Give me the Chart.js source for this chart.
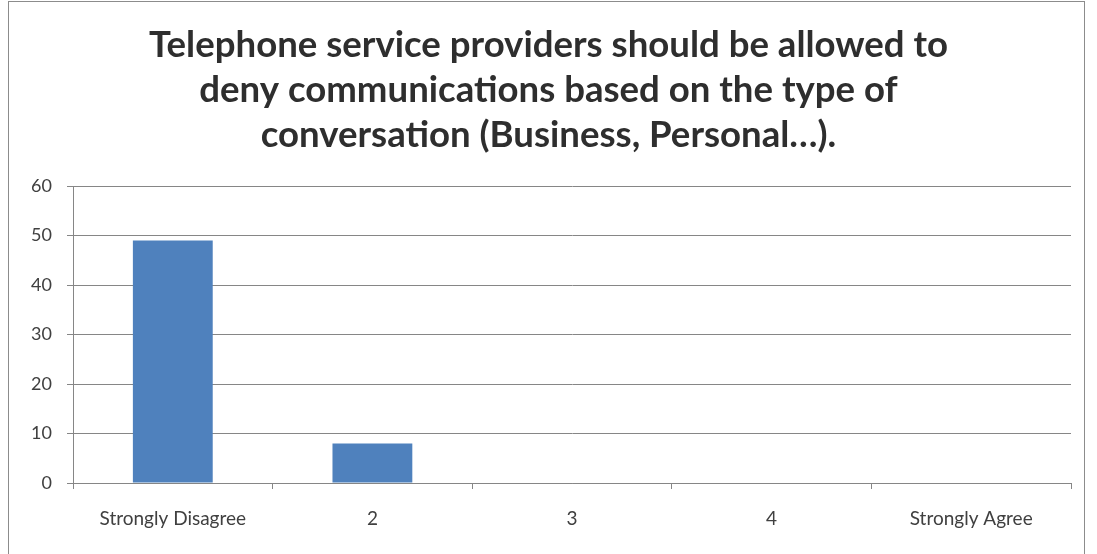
<!DOCTYPE html>
<html>
<head>
<meta charset="utf-8">
<script src="https://cdn.jsdelivr.net/npm/chart.js@4"></script>
<style>
  html, body { margin: 0; padding: 0; background: #ffffff; }
  #wrap { position: relative; width: 1097px; height: 554px; overflow: hidden; }
  #frame { position: absolute; left: 8px; top: 1px; width: 1077px; height: 600px;
           border: 1px solid #8c8c8c; box-sizing: border-box; }
  #c { position: absolute; left: 0; top: 0; }
</style>
</head>
<body>
<div id="wrap">
  <div id="frame"></div>
  <canvas id="c" width="1097" height="554"></canvas>
</div>
<script>
// Survey responses per agreement level
const categories = ['Strongly Disagree', '2', '3', '4', 'Strongly Agree'];
const responses = [49, 8, 0, 0, 0];
const titleLines = [
  'Telephone service providers should be allowed to',
  'deny communications based on the type of',
  'conversation (Business, Personal…).'
];
const yMax = 60;
const yStep = 10;

const gridColor = '#868686';
const textColor = '#404040';

new Chart(document.getElementById('c'), {
  type: 'bar',
  data: {
    labels: categories,
    datasets: [{
      data: responses,
      backgroundColor: '#4f81bd',
      borderWidth: 0,
      categoryPercentage: 1,
      barPercentage: 0.4
    }]
  },
  options: {
    responsive: false,
    animation: false,
    layout: { padding: { left: 26, right: 26, top: 0, bottom: 0 } },
    plugins: {
      legend: { display: false },
      tooltip: { enabled: false },
      title: {
        display: true,
        text: titleLines,
        color: '#2e2e2e',
        font: { family: 'Lato', size: 36.6, weight: 'bold', lineHeight: 45 / 36.6 },
        padding: { top: 23, bottom: 28 }
      }
    },
    scales: {
      x: {
        grid: {
          offset: true,
          drawOnChartArea: false,
          drawTicks: true,
          tickLength: 6,
          color: gridColor
        },
        border: { color: gridColor },
        ticks: {
          color: textColor,
          font: { family: 'Lato', size: 19 },
          padding: 18,
          maxRotation: 0
        },
        afterFit(scale) { scale.height = 71; }
      },
      y: {
        min: 0,
        max: yMax,
        grid: { color: gridColor, tickLength: 6 },
        border: { color: gridColor },
        ticks: {
          stepSize: yStep,
          color: textColor,
          font: { family: 'Lato', size: 18 },
          padding: 15
        },
        afterFit(scale) { scale.width = 47; }
      }
    }
  }
});
</script>
</body>
</html>
